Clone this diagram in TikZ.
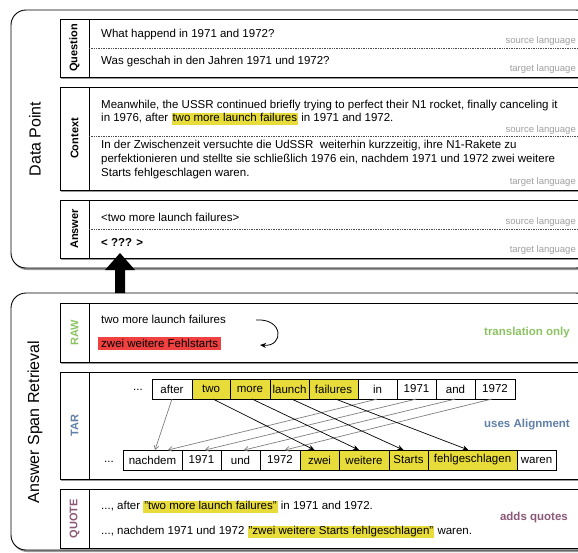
\documentclass[tikz,border=0pt]{standalone}
\usepackage{fontspec}
\setmainfont{Liberation Sans}
\usetikzlibrary{positioning,arrows.meta,shadows}
\definecolor{hlyellow}{RGB}{232,220,58}
\definecolor{hlred}{RGB}{240,64,64}
\definecolor{rawgreen}{RGB}{140,196,100}
\definecolor{targray}{RGB}{96,128,168}
\definecolor{quotepurple}{RGB}{140,88,120}
\definecolor{langgray}{RGB}{160,160,160}
\newcommand\hl[1]{{\fboxsep=1pt\colorbox{hlyellow}{\vphantom{Ag}#1}}}
\tikzset{
  panel/.style={draw,line width=0.9pt,fill=white,
    drop shadow={shadow xshift=1.2pt,shadow yshift=-2pt,fill=black!40,opacity=1}},
  outerbox/.style={panel,rounded corners=15pt},
  paneltag/.style={rotate=90,font=\fontsize{11}{12}\selectfont\bfseries},
  lang/.style={anchor=east,text=langgray,inner sep=0pt,font=\fontsize{9.5}{10}\selectfont},
  txt/.style={anchor=west,inner sep=0pt,align=left,font=\fontsize{11.5}{13}\selectfont},
  dotsep/.style={densely dotted,black!70,line width=0.7pt},
  tok/.style={draw,line width=0.8pt,inner sep=0pt,outer sep=0pt,minimum height=20pt,
    minimum width=#1,font=\fontsize{11.5}{12}\selectfont},
  ytok/.style={tok=#1,fill=hlyellow},
  al/.style={-{Stealth[length=6pt,width=5pt]},line width=0.7pt},
  gal/.style={-{Straight Barb[length=4pt,width=5pt]},gray,line width=0.7pt},
  sidenote/.style={anchor=east,inner sep=0pt,font=\fontsize{11.5}{12}\selectfont\bfseries},
}
\begin{document}
\begin{tikzpicture}[x=1pt,y=-1pt]
\useasboundingbox (0,0) rectangle (578,552);
\clip (0,0) rectangle (578,552);

% data point
\draw[outerbox] (11,10) rectangle (591,268);
\node[rotate=90,font=\fontsize{16}{16}\selectfont] (dp) at (35,139) {Data Point};

\draw[panel] (60,19) rectangle (580,77);
\draw (89,19)--(89,77);
\draw[dotsep] (89,48)--(580,48);
\node[paneltag] (question) at (74.5,48) {Question};
\node[txt] (qsrc) at (101,35) {What happend in 1971 and 1972?};
\node[txt] (qtgt) at (101,62) {Was geschah in den Jahren 1971 und 1972?};
\node[lang] at (576,41) {source language};
\node[lang] at (576,69) {target language};

\draw[panel] (60,87) rectangle (580,190);
\draw (89,87)--(89,190);
\draw[dotsep] (89,136)--(580,136);
\node[paneltag] (context) at (74.5,138.5) {Context};
\node[txt] (csrc) at (101,113) {Meanwhile, the USSR continued briefly trying to perfect their N1 rocket, finally canceling it\\
in 1976, after \hl{two more launch failures} in 1971 and 1972.};
\node[txt,font=\fontsize{11.5}{14}\selectfont] (ctgt) at (101,160) {In der Zwischenzeit versuchte die UdSSR\ \ weiterhin kurzzeitig, ihre N1-Rakete zu\\
perfektionieren und stellte sie schließlich 1976 ein, nachdem 1971 und 1972 zwei weitere\\
Starts fehlgeschlagen waren.};
\node[lang] at (576,130) {source language};
\node[lang] at (576,182) {target language};

\draw[panel] (60,200) rectangle (580,258);
\draw (89,200)--(89,258);
\draw[dotsep] (89,229)--(580,229);
\node[paneltag] (answer) at (74.5,229) {Answer};
\node[txt] (asrc) at (101,217) {<two more launch failures>};
\node[txt,font=\fontsize{11.5}{13}\selectfont\bfseries] (atgt) at (101,242) {< ??? >};
\node[lang] at (576,222) {source language};
\node[lang] at (576,250) {target language};

% answer span retrieval
\draw[outerbox] (11,293) rectangle (591,550);
\node[rotate=90,font=\fontsize{16}{16}\selectfont] (asr) at (35,422) {Answer Span Retrieval};

\draw[panel] (60,303) rectangle (580,362);
\draw (89,303)--(89,362);
\node[paneltag,text=rawgreen] (raw) at (74.5,332.5) {RAW};
\node[txt] (rsrc) at (101,319) {two more launch failures};
\node[txt,fill=hlred,inner xsep=3pt,inner ysep=2pt] (rtgt) at (98,343.5) {zwei weitere Fehlstarts};
\coordinate (rawa) at (256,320);
\coordinate (rawb) at (260,345);
\draw[al,line width=0.8pt] (rawa) .. controls (284,318) and (284,347) .. (rawb);
\node[sidenote,text=rawgreen] at (570,333) {translation only};

\draw[panel] (60,372) rectangle (580,479);
\draw (89,372)--(89,479);
\node[paneltag,text=targray] (tar) at (74.5,425.5) {TAR};
\node[font=\fontsize{11.5}{12}\selectfont] at (138,390) {...};
\node[tok=40pt] (safter) at (172,389) {after};
\node[ytok=38pt,right=0pt of safter] (stwo) {two};
\node[ytok=40pt,right=0pt of stwo] (smore) {more};
\node[ytok=39pt,right=0pt of smore] (slaunch) {launch};
\node[ytok=49pt,right=0pt of slaunch] (sfailures) {failures};
\node[tok=39pt,right=0pt of sfailures] (sin) {in};
\node[tok=39pt,right=0pt of sin] (s1971) {1971};
\node[tok=39pt,right=0pt of s1971] (sand) {and};
\node[tok=40pt,right=0pt of sand] (s1972) {1972};

\node[font=\fontsize{11.5}{12}\selectfont] at (109,462) {...};
\node[tok=59pt] (tnachdem) at (152.5,460) {nachdem};
\node[tok=39pt,right=0pt of tnachdem] (t1971) {1971};
\node[tok=39pt,right=0pt of t1971] (tund) {und};
\node[tok=40pt,right=0pt of tund] (t1972) {1972};
\node[ytok=39pt,right=0pt of t1972] (tzwei) {zwei};
\node[ytok=50pt,right=0pt of tzwei] (tweitere) {weitere};
\node[ytok=39pt,right=0pt of tweitere] (tstarts) {Starts};
\node[ytok=89pt,right=0pt of tstarts] (tfehl) {fehlgeschlagen};
\node[tok=39pt,right=0pt of tfehl] (twaren) {waren};

\draw[gal] (safter.south) -- ([xshift=2.5pt]tnachdem.north);
\draw[gal] (sin.south) -- ([xshift=15.5pt]tnachdem.north);
\draw[gal] (s1971.south) -- ([xshift=3.5pt]t1971.north);
\draw[gal] (sand.south) -- ([xshift=3.5pt]tund.north);
\draw[gal] ([xshift=-3pt]s1972.south) -- ([xshift=5pt]t1972.north);
\draw[al] ([xshift=2pt]stwo.south) -- ([xshift=-5pt]tzwei.north);
\draw[al] ([xshift=2pt]smore.south) -- ([xshift=-5pt]tweitere.north);
\draw[al] ([xshift=2pt]slaunch.south) -- ([xshift=-5pt]tstarts.north);
\draw[al] ([xshift=2pt]sfailures.south) -- ([xshift=-4pt]tfehl.north);
\node[sidenote,text=targray] at (570,425) {uses Alignment};

\draw[panel] (60,489) rectangle (580,548);
\draw (89,489)--(89,548);
\node[paneltag,text=quotepurple] (quote) at (74.5,518.5) {QUOTE};
\node[txt] (qusrc) at (101,507) {..., after \hl{"two more launch failures"} in 1971 and 1972.};
\node[txt] (qutgt) at (101,532) {..., nachdem 1971 und 1972 \hl{"zwei weitere Starts fehlgeschlagen"} waren.};
\node[sidenote,text=quotepurple] at (568,518) {adds quotes};

% arrow up to the data point
\fill (115,293)--(115,270)--(105,270)--(120,253)--(135,270)--(125,270)--(125,293)--cycle;
\end{tikzpicture}
\end{document}
